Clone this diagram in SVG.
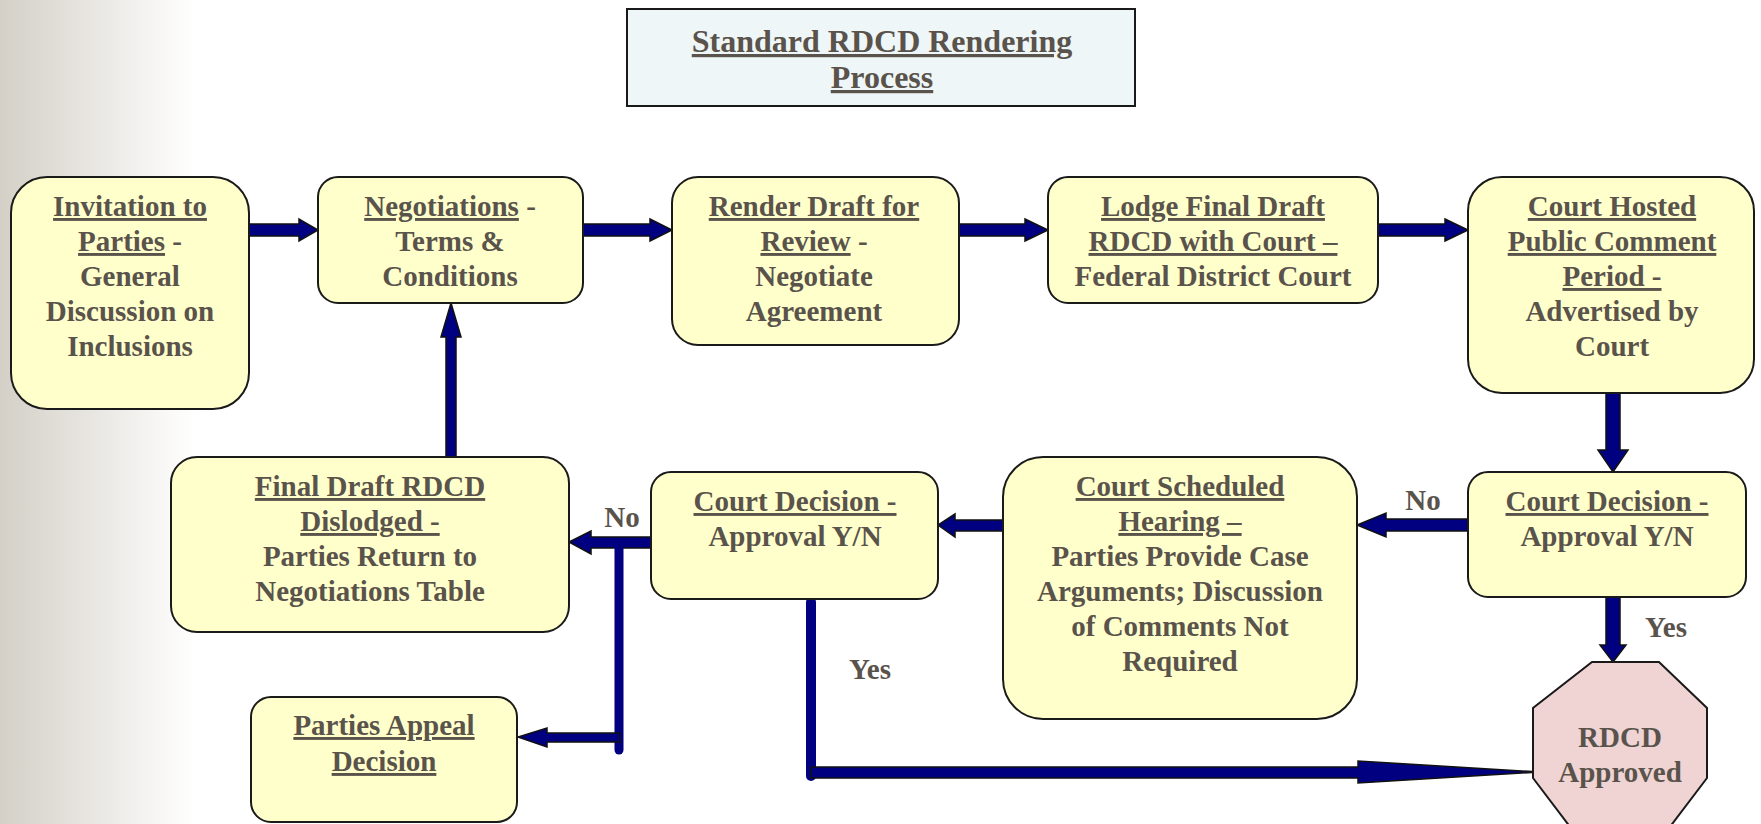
<svg xmlns="http://www.w3.org/2000/svg" width="1761" height="824" viewBox="0 0 1761 824">
<defs>
<linearGradient id="bg" x1="0" y1="0" x2="1" y2="0">
<stop offset="0" stop-color="#d4d0c7"/>
<stop offset="1" stop-color="#ffffff"/>
</linearGradient>
<style>
.box{fill:#ffffcc;stroke:#1a1a1a;stroke-width:2}
.t{font-family:"Liberation Serif","Times New Roman",serif;font-weight:bold;font-size:29px;fill:#5a534b;text-anchor:middle}
.title{font-size:32px}
.u{text-decoration:underline}
.arr{fill:#000080;stroke:#111;stroke-width:1.5;stroke-linejoin:miter}
.ln{fill:none;stroke:#000080;stroke-linecap:round}
</style>
</defs>
<rect x="0" y="0" width="1761" height="824" fill="#ffffff"/>
<rect x="0" y="0" width="195" height="824" fill="url(#bg)"/>

<g id="title">
<rect x="627" y="9" width="508" height="97" fill="#eef6f8" stroke="#1a1a1a" stroke-width="2"/>
<text class="t title" x="882" y="52"><tspan class="u">Standard RDCD Rendering</tspan></text>
<text class="t title" x="882" y="88"><tspan class="u">Process</tspan></text>
</g>

<g id="connectors">
<polygon class="arr" points="249,224 299,224 299,219 318,230 299,241 299,236 249,236"/>
<polygon class="arr" points="583,224 650,224 650,219 672,230 650,241 650,236 583,236"/>
<polygon class="arr" points="959,224 1025,224 1025,219 1048,230 1025,241 1025,236 959,236"/>
<polygon class="arr" points="1378,224 1445,224 1445,219 1468,230 1445,241 1445,236 1378,236"/>
<polygon class="arr" points="1606,393 1620,393 1620,450 1628,450 1613,472 1598,450 1606,450"/>
<polygon class="arr" points="1606,597 1620,597 1620,645 1626,645 1613,662 1600,645 1606,645"/>
<polygon class="arr" points="1468,519 1386,519 1386,513 1357,525 1386,537 1386,531 1468,531"/>
<polygon class="arr" points="1003,520 955,520 955,514 938,525 955,537 955,531 1003,531"/>
<polygon class="arr" points="651,537 591,537 591,531 569,542 591,554 591,548 651,548"/>
<line class="ln" x1="619" y1="548" x2="619" y2="750" stroke-width="9"/>
<polygon class="arr" points="620,733 547,733 547,728 518,737 547,747 547,742 620,742"/>
<line class="ln" x1="811" y1="602" x2="811" y2="776" stroke-width="10"/>
<polygon class="arr" points="811,767 1358,767 1358,761 1540,772 1358,783 1358,778 811,778"/>
<polygon class="arr" points="446,457 446,337 441,337 451,303 461,337 456,337 456,457"/>
</g>

<g id="n-invitation">
<rect class="box" x="11" y="177" width="238" height="232" rx="36"/>
<text class="t" x="130" y="216"><tspan class="u">Invitation to</tspan></text>
<text class="t" x="130" y="251"><tspan class="u">Parties</tspan> -</text>
<text class="t" x="130" y="286">General</text>
<text class="t" x="130" y="321">Discussion on</text>
<text class="t" x="130" y="356">Inclusions</text>
</g>

<g id="n-negotiations">
<rect class="box" x="318" y="177" width="265" height="126" rx="20"/>
<text class="t" x="450" y="216"><tspan class="u">Negotiations</tspan> -</text>
<text class="t" x="450" y="251">Terms &amp;</text>
<text class="t" x="450" y="286">Conditions</text>
</g>

<g id="n-render">
<rect class="box" x="672" y="177" width="287" height="168" rx="26"/>
<text class="t" x="814" y="216"><tspan class="u">Render Draft for</tspan></text>
<text class="t" x="814" y="251"><tspan class="u">Review</tspan> -</text>
<text class="t" x="814" y="286">Negotiate</text>
<text class="t" x="814" y="321">Agreement</text>
</g>

<g id="n-lodge">
<rect class="box" x="1048" y="177" width="330" height="126" rx="20"/>
<text class="t" x="1213" y="216"><tspan class="u">Lodge Final Draft</tspan></text>
<text class="t" x="1213" y="251"><tspan class="u">RDCD with Court –</tspan></text>
<text class="t" x="1213" y="286">Federal District Court</text>
</g>

<g id="n-hosted">
<rect class="box" x="1468" y="177" width="286" height="216" rx="34"/>
<text class="t" x="1612" y="216"><tspan class="u">Court Hosted</tspan></text>
<text class="t" x="1612" y="251"><tspan class="u">Public Comment</tspan></text>
<text class="t" x="1612" y="286"><tspan class="u">Period -</tspan></text>
<text class="t" x="1612" y="321">Advertised by</text>
<text class="t" x="1612" y="356">Court</text>
</g>

<g id="n-decision-right">
<rect class="box" x="1468" y="472" width="278" height="125" rx="20"/>
<text class="t" x="1607" y="511"><tspan class="u">Court Decision -</tspan></text>
<text class="t" x="1607" y="546">Approval Y/N</text>
</g>

<g id="n-hearing">
<rect class="box" x="1003" y="457" width="354" height="262" rx="40"/>
<text class="t" x="1180" y="496"><tspan class="u">Court Scheduled</tspan></text>
<text class="t" x="1180" y="531"><tspan class="u">Hearing –</tspan></text>
<text class="t" x="1180" y="566">Parties Provide Case</text>
<text class="t" x="1180" y="601">Arguments; Discussion</text>
<text class="t" x="1180" y="636">of Comments Not</text>
<text class="t" x="1180" y="671">Required</text>
</g>

<g id="n-decision-mid">
<rect class="box" x="651" y="472" width="287" height="127" rx="20"/>
<text class="t" x="795" y="511"><tspan class="u">Court Decision -</tspan></text>
<text class="t" x="795" y="546">Approval Y/N</text>
</g>

<g id="n-dislodged">
<rect class="box" x="171" y="457" width="398" height="175" rx="26"/>
<text class="t" x="370" y="496"><tspan class="u">Final Draft RDCD</tspan></text>
<text class="t" x="370" y="531"><tspan class="u">Dislodged -</tspan></text>
<text class="t" x="370" y="566">Parties Return to</text>
<text class="t" x="370" y="601">Negotiations Table</text>
</g>

<g id="n-appeal">
<rect class="box" x="251" y="697" width="266" height="125" rx="20"/>
<text class="t" x="384" y="735"><tspan class="u">Parties Appeal</tspan></text>
<text class="t" x="384" y="771"><tspan class="u">Decision</tspan></text>
</g>

<g id="n-approved">
<polygon points="1592,662 1659,662 1707,708 1707,778 1660,840 1580,840 1533,778 1533,708" fill="#f0d4d4" stroke="#1a1a1a" stroke-width="2"/>
<text class="t" x="1620" y="747">RDCD</text>
<text class="t" x="1620" y="782">Approved</text>
</g>

<g id="labels">
<text class="t" x="1423" y="510">No</text>
<text class="t" x="622" y="527">No</text>
<text class="t" x="1666" y="637">Yes</text>
<text class="t" x="870" y="679">Yes</text>
</g>
</svg>
